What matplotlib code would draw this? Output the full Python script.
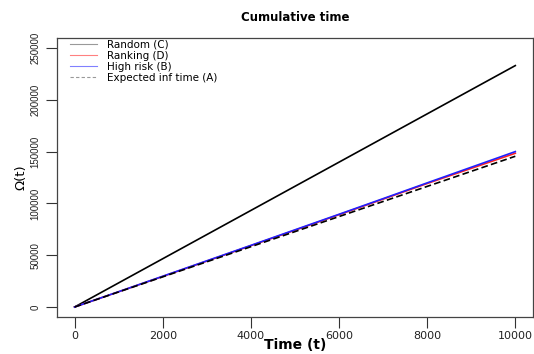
import matplotlib
matplotlib.use("Agg")
import matplotlib.pyplot as plt
from matplotlib.lines import Line2D

# Cumulative time curves sampled every 1000 steps
t = [0, 1000, 2000, 3000, 4000, 5000, 6000, 7000, 8000, 9000, 10000]
random_c = [0, 23300, 46600, 69900, 93200, 116500, 139800, 163100, 186400, 209700, 233000]
ranking_d = [0, 14700, 29500, 44300, 59200, 74100, 89100, 104100, 119200, 133800, 148400]
high_risk_b = [0, 14800, 29700, 44600, 59500, 74500, 89500, 104600, 119800, 134900, 150000]
expected_a = [0, 14550, 29100, 43650, 58200, 72750, 87300, 101850, 116400, 130950, 145500]

x_ticks = [0, 2000, 4000, 6000, 8000, 10000]
y_ticks = [0, 50000, 100000, 150000, 200000, 250000]
labels = ["Random (C)", "Ranking (D)", "High risk (B)", "Expected inf time (A)"]

fig = plt.figure(figsize=(5.34, 3.54), dpi=100)
ax = fig.add_axes([0.1067, 0.1045, 0.8913, 0.7882])

ax.plot(t, random_c, color="black", lw=1.2)
ax.plot(t, ranking_d, color="#ff2020", lw=1.2)
ax.plot(t, high_risk_b, color="#2020ff", lw=1.2)
ax.plot(t, expected_a, color="black", lw=1.2, ls=(0, (4, 2)))

ax.set_xlim(-400, 10400)
ax.set_ylim(-9650, 259650)

ax.set_xticks(x_ticks)
ax.set_xticklabels([str(v) for v in x_ticks], fontsize=8, family="DejaVu Sans")
ax.set_yticks(y_ticks)
ax.set_yticklabels([str(v) for v in y_ticks], fontsize=7, family="Liberation Sans",
                   rotation=90, va="center")
ax.tick_params(axis="both", direction="out", length=8, width=0.8, color="#333333",
               labelcolor="#222222")
ax.tick_params(axis="x", pad=2)
ax.tick_params(axis="y", pad=4)

for s in ax.spines.values():
    s.set_color("#444444")
    s.set_linewidth(0.9)

ax.set_xlabel("Time (t)", fontsize=10, fontweight="bold", family="DejaVu Sans", labelpad=-2)
ax.set_ylabel("Ω(t)", fontsize=9.5, family="DejaVu Sans", labelpad=2)
ax.set_title("Cumulative time", fontsize=8.5, fontweight="bold", family="DejaVu Sans", pad=12)

handles = [
    Line2D([], [], color="#999999", lw=0.8),
    Line2D([], [], color="#ff8080", lw=0.8),
    Line2D([], [], color="#8080ff", lw=0.8),
    Line2D([], [], color="#999999", lw=0.8, ls=(0, (3, 2))),
]
leg = ax.legend(handles, labels, loc="upper left", frameon=False,
                bbox_to_anchor=(0.012, 1.02),
                prop={"family": "DejaVu Sans", "size": 7.5},
                handlelength=2.6, handletextpad=1.0, labelspacing=0.1,
                borderaxespad=0.3)

fig.savefig("out.png", dpi=100)
